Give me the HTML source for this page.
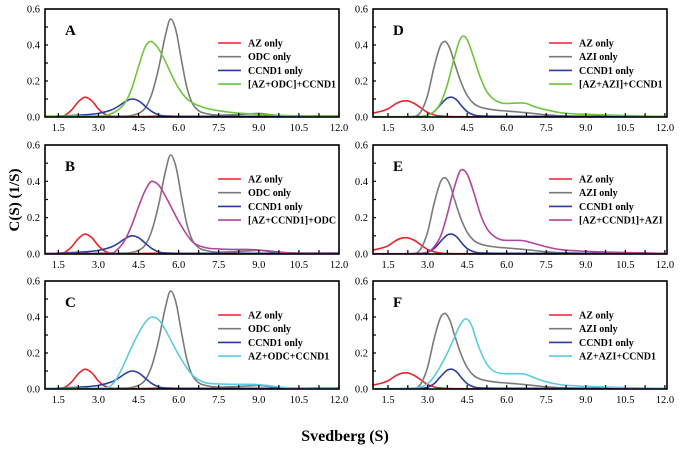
<!DOCTYPE html>
<html><head><meta charset="utf-8">
<style>
html,body{margin:0;padding:0;background:#fff;}
svg{display:block;font-family:"Liberation Serif",serif;}
</style></head>
<body>
<svg id="chart" width="680" height="451" viewBox="0 0 680 451" xmlns="http://www.w3.org/2000/svg">
<text x="0" y="0" transform="translate(19,200) rotate(-90)" text-anchor="middle" font-size="15" font-weight="bold">C(S) (1/S)</text>
<text x="345" y="441" text-anchor="middle" font-size="16" font-weight="bold">Svedberg (S)</text>
</svg>
<script>
// ---- data: left panels (A, B, C) ----
const azL_x   = [1.0,1.5,1.75,2.0,2.25,2.5,2.75,3.0,3.25,3.5,4.0,5.0,5.5,6.0,7.0,12.0];
const azL_y   = [0.0,0.003,0.01,0.04,0.085,0.11,0.09,0.045,0.015,0.004,0.002,0.004,0.005,0.004,0.003,0.003];
const odc_x   = [1.0,4.0,4.5,4.75,5.0,5.25,5.5,5.7,5.9,6.1,6.3,6.5,6.75,7.0,7.5,8.0,8.5,9.0,9.5,10.0,12.0];
const odc_y   = [0.0,0.005,0.02,0.05,0.13,0.27,0.45,0.545,0.48,0.32,0.17,0.08,0.035,0.02,0.01,0.012,0.016,0.02,0.012,0.005,0.004];
const ccL_x   = [1.0,2.0,2.5,3.0,3.5,3.75,4.0,4.25,4.5,4.75,5.0,5.25,5.5,6.0,12.0];
const ccL_y   = [0.002,0.008,0.012,0.02,0.04,0.06,0.085,0.1,0.09,0.06,0.03,0.012,0.005,0.003,0.005];
const grA_x   = [1.0,3.0,3.5,4.0,4.25,4.5,4.75,4.95,5.2,5.5,5.75,6.0,6.25,6.5,7.0,7.5,8.0,9.0,10.0,11.0,12.0];
const grA_y   = [0.005,0.005,0.02,0.08,0.16,0.28,0.39,0.42,0.39,0.31,0.23,0.16,0.11,0.08,0.05,0.035,0.025,0.015,0.008,0.005,0.005];
const mgB_x   = [1.0,3.5,3.75,4.0,4.25,4.5,4.75,5.0,5.25,5.5,5.75,6.0,6.5,7.0,7.5,8.0,8.5,9.0,9.5,10.0,11.0,12.0];
const mgB_y   = [0.003,0.005,0.03,0.08,0.16,0.26,0.35,0.40,0.38,0.32,0.25,0.18,0.07,0.035,0.028,0.025,0.025,0.022,0.015,0.008,0.003,0.003];
const cyC_x   = [1.0,3.3,3.6,3.9,4.2,4.5,4.75,5.0,5.25,5.5,5.75,6.0,6.5,7.0,7.5,8.0,8.5,9.0,9.5,10.0,11.0,12.0];
const cyC_y   = [0.003,0.005,0.04,0.12,0.22,0.31,0.37,0.40,0.385,0.33,0.26,0.19,0.08,0.035,0.028,0.026,0.026,0.024,0.016,0.008,0.003,0.003];
// ---- data: right panels (D, E, F) ----
const azR_x   = [0.9,1.5,1.75,2.0,2.2,2.5,2.75,3.0,3.25,3.5,4.0,12.0];
const azR_y   = [0.02,0.045,0.07,0.087,0.09,0.075,0.05,0.025,0.012,0.005,0.002,0.002];
const azi_x   = [0.9,2.5,2.75,3.0,3.25,3.5,3.65,3.85,4.0,4.25,4.5,4.75,5.0,5.5,6.0,6.5,7.0,7.5,8.0,9.0,12.0];
const azi_y   = [0.0,0.003,0.03,0.12,0.28,0.40,0.42,0.38,0.31,0.20,0.12,0.075,0.055,0.04,0.033,0.027,0.02,0.012,0.007,0.004,0.002];
const ccR_x   = [0.9,2.5,3.0,3.25,3.5,3.75,3.9,4.1,4.3,4.5,4.75,5.0,6.0,12.0];
const ccR_y   = [0.0,0.002,0.01,0.03,0.07,0.105,0.11,0.095,0.06,0.03,0.012,0.006,0.004,0.003];
const grD_x   = [0.9,2.5,3.0,3.25,3.5,3.75,4.0,4.2,4.35,4.5,4.75,5.0,5.25,5.5,5.75,6.0,6.5,6.75,7.0,7.5,8.0,8.5,9.0,10.0,11.0,12.0];
const grD_y   = [0.002,0.002,0.01,0.03,0.08,0.18,0.32,0.42,0.45,0.43,0.33,0.22,0.14,0.10,0.08,0.075,0.078,0.075,0.06,0.04,0.025,0.018,0.015,0.01,0.006,0.003];
const mgE_x   = [0.9,2.5,3.0,3.25,3.5,3.75,4.0,4.3,4.5,4.75,5.0,5.25,5.5,5.75,6.0,6.5,6.75,7.0,7.5,8.0,9.0,10.0,12.0];
const mgE_y   = [0.002,0.002,0.01,0.04,0.10,0.22,0.36,0.465,0.44,0.34,0.22,0.14,0.10,0.08,0.075,0.075,0.07,0.06,0.04,0.025,0.015,0.01,0.003];
const cyF_x   = [0.9,2.5,3.0,3.25,3.5,3.75,4.0,4.25,4.45,4.65,4.9,5.2,5.5,6.0,6.5,6.75,7.0,7.5,8.0,9.0,10.0,12.0];
const cyF_y   = [0.002,0.005,0.03,0.07,0.13,0.20,0.28,0.36,0.39,0.36,0.25,0.15,0.10,0.085,0.085,0.08,0.065,0.04,0.025,0.015,0.01,0.003];
// ---- ticks ----
const xTickLabels = ["1.5","3.0","4.5","6.0","7.5","9.0","10.5","12.0"];
const xTickValues = [1.5,3.0,4.5,6.0,7.5,9.0,10.5,12.0];
const yTickLabels = ["0.0","0.2","0.4","0.6"];
const yTickValues = [0,0.2,0.4,0.6];

const C = {red:"#e8232b",gray:"#7a7a7a",blue:"#2b3d9e",green:"#6cc63a",mag:"#b2449e",cyan:"#5ccbe0"};
const NS="http://www.w3.org/2000/svg";
const svg=document.getElementById('chart');
function mk(tag,attrs,parent){const e=document.createElementNS(NS,tag);for(const k in attrs)e.setAttribute(k,attrs[k]);(parent||svg).appendChild(e);return e;}

function monotonePath(px,py){
  const n=px.length;const d=[],m=new Array(n);
  for(let i=0;i<n-1;i++)d.push((py[i+1]-py[i])/(px[i+1]-px[i]));
  m[0]=d[0];m[n-1]=d[n-2];
  for(let i=1;i<n-1;i++){m[i]=(d[i-1]*d[i]<=0)?0:(d[i-1]+d[i])/2;}
  for(let i=0;i<n-1;i++){if(d[i]===0){m[i]=0;m[i+1]=0;continue;}const a=m[i]/d[i],b=m[i+1]/d[i],s=a*a+b*b;if(s>9){const t=3/Math.sqrt(s);m[i]=t*a*d[i];m[i+1]=t*b*d[i];}}
  let p="M"+px[0].toFixed(2)+","+py[0].toFixed(2);
  for(let i=0;i<n-1;i++){const h=(px[i+1]-px[i])/3;
    p+=" C"+(px[i]+h).toFixed(2)+","+(py[i]+m[i]*h).toFixed(2)+" "+(px[i+1]-h).toFixed(2)+","+(py[i+1]-m[i+1]*h).toFixed(2)+" "+px[i+1].toFixed(2)+","+py[i+1].toFixed(2);}
  return p;
}

const panels=[
 {id:"a",L:45,R:339,T:9,B:117,dmin:1.0,dmax:12.0,legX:218,series:[[azL_x,azL_y,C.red,"AZ only"],[odc_x,odc_y,C.gray,"ODC only"],[ccL_x,ccL_y,C.blue,"CCND1 only"],[grA_x,grA_y,C.green,"[AZ+ODC]+CCND1"]]},
 {id:"b",L:45,R:339,T:145,B:254,dmin:1.0,dmax:12.0,legX:218,series:[[azL_x,azL_y,C.red,"AZ only"],[odc_x,odc_y,C.gray,"ODC only"],[ccL_x,ccL_y,C.blue,"CCND1 only"],[mgB_x,mgB_y,C.mag,"[AZ+CCND1]+ODC"]]},
 {id:"c",L:45,R:339,T:281,B:389,dmin:1.0,dmax:12.0,legX:218,series:[[azL_x,azL_y,C.red,"AZ only"],[odc_x,odc_y,C.gray,"ODC only"],[ccL_x,ccL_y,C.blue,"CCND1 only"],[cyC_x,cyC_y,C.cyan,"AZ+ODC+CCND1"]]},
 {id:"d",L:373,R:667,T:9,B:117,dmin:0.93,dmax:12.08,legX:549,series:[[azR_x,azR_y,C.red,"AZ only"],[azi_x,azi_y,C.gray,"AZI only"],[ccR_x,ccR_y,C.blue,"CCND1 only"],[grD_x,grD_y,C.green,"[AZ+AZI]+CCND1"]]},
 {id:"e",L:373,R:667,T:145,B:254,dmin:0.93,dmax:12.08,legX:549,series:[[azR_x,azR_y,C.red,"AZ only"],[azi_x,azi_y,C.gray,"AZI only"],[ccR_x,ccR_y,C.blue,"CCND1 only"],[mgE_x,mgE_y,C.mag,"[AZ+CCND1]+AZI"]]},
 {id:"f",L:373,R:667,T:281,B:389,dmin:0.93,dmax:12.08,legX:549,series:[[azR_x,azR_y,C.red,"AZ only"],[azi_x,azi_y,C.gray,"AZI only"],[ccR_x,ccR_y,C.blue,"CCND1 only"],[cyF_x,cyF_y,C.cyan,"AZ+AZI+CCND1"]]}
];

panels.forEach(P=>{
  const g=mk('g',{});
  
  
  const sx=v=>P.L+(v-P.dmin)/(P.dmax-P.dmin)*(P.R-P.L);
  const sy=v=>P.B-v/0.6*(P.B-P.T);
  const cid='clip-'+P.id;
  const cp=mk('clipPath',{id:cid},g);mk('rect',{x:P.L,y:P.T,width:P.R-P.L,height:P.B-P.T},cp);
  const cg=mk('g',{'clip-path':'url(#'+cid+')'},g);
  P.series.forEach((s,i)=>{
    const path=mk('path',{d:monotonePath(s[0].map(sx),s[1].map(sy)),fill:'none',stroke:s[2],'stroke-width':1.6},cg);
    
    
  });
  const fr=mk('rect',{x:P.L,y:P.T,width:P.R-P.L,height:P.B-P.T,fill:'none',stroke:'#000','stroke-width':1.6},g);
  
  
  for(let v=1.5;v<=12.01;v+=0.75){mk('line',{x1:sx(v),x2:sx(v),y1:P.B,y2:P.B-4,stroke:'#000','stroke-width':1.2},g);}
  xTickValues.forEach((v,i)=>{
    const t=mk('text',{x:sx(v),y:P.B+14,'text-anchor':'middle','font-size':10.5},g);
    t.textContent=xTickLabels[i];
    
    
  });
  for(let v=0.1;v<0.6;v+=0.1){mk('line',{x1:P.L,x2:P.L+3,y1:sy(v),y2:sy(v),stroke:'#000','stroke-width':1.2},g);}
  yTickValues.forEach((v,i)=>{
    const t=mk('text',{x:P.L-5,y:sy(v)+3.5,'text-anchor':'end','font-size':10.5},g);
    t.textContent=yTickLabels[i];
    
    
  });
  const lt=mk('text',{x:P.L+20,y:P.T+26,'font-size':15,'font-weight':'bold'},g);
  lt.textContent=P.id.toUpperCase();
  
  
  P.series.forEach((s,i)=>{
    const y=P.T+34+i*13.7;
    const le=mk('g',{},g);
    
    
    mk('line',{x1:P.legX,x2:P.legX+23,y1:y,y2:y,stroke:s[2],'stroke-width':1.6},le);
    const t=mk('text',{x:P.legX+30,y:y+3.5,'font-size':10,'font-weight':'bold'},le);
    t.textContent=s[3];
  });
});
</script>
</body></html>
